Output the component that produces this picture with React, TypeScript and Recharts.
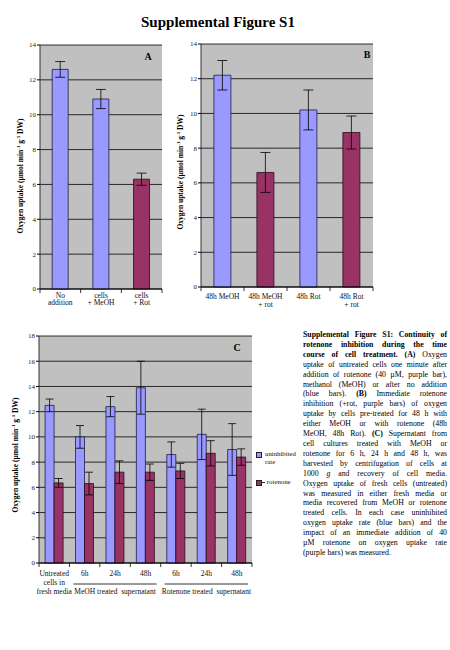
import React from "react";
import { BarChart, Bar, XAxis, YAxis, CartesianGrid, ErrorBar, Cell, Legend } from "recharts";

const BLUE = "#9999ff";
const PURPLE = "#993366";
const BLUE_EDGE = "#1c1c48";
const PURPLE_EDGE = "#2a0a18";
const PLOT_BG = "#c0c0c0";
const FONT = "'Liberation Serif', 'Times New Roman', serif";

// panel A
const catsA = ["No\naddition", "cells\n+ MeOH", "cells\n+ Rot"];
const rateA = [12.6, 10.9, 6.3];
const errA = [0.45, 0.55, 0.35];
const rotA = [false, false, true];

// panel B
const catsB = ["48h MeOH", "48h MeOH\n+ rot", "48h Rot", "48h Rot\n+ rot"];
const rateB = [12.2, 6.6, 10.2, 8.9];
const errB = [0.85, 1.15, 1.15, 0.95];
const rotB = [false, true, false, true];

// panel C
const catsC = ["Untreated\ncells in\nfresh media", "6h", "24h", "48h", "6h", "24h", "48h"];
const uninhibitedC = [12.5, 10.0, 12.4, 13.9, 8.6, 10.2, 9.0];
const uninhibitedErrC = [0.5, 0.9, 0.8, 2.1, 1.0, 2.0, 2.05];
const rotenoneC = [6.35, 6.3, 7.2, 7.2, 7.3, 8.7, 8.4];
const rotenoneErrC = [0.35, 0.9, 0.9, 0.65, 0.6, 1.0, 0.65];
const groupLabelsC = ["MeOH treated  supernatant", "Rotenone treated  supernatant"];
const groupMidC = [2, 5];
const legendOrderC = ["uninhibited", "rotenone"];

const ticks14 = [0, 2, 4, 6, 8, 10, 12, 14];
const ticks18 = [0, 2, 4, 6, 8, 10, 12, 14, 16, 18];

const captionLines = [
  "*Supplemental Figure S1: Continuity of*",
  "*rotenone inhibition during the time*",
  "*course of cell treatment. (A)* Oxygen",
  "uptake of untreated cells one minute after",
  "addition of rotenone (40 µM, purple bar),",
  "methanol (MeOH) or after no addition",
  "(blue bars). *(B)* Immediate rotenone",
  "inhibition (+rot, purple bars) of oxygen",
  "uptake by cells pre-treated for 48 h with",
  "either MeOH or with rotenone (48h",
  "MeOH, 48h Rot). *(C)* Supernatant from",
  "cell cultures treated with MeOH or",
  "rotenone for 6 h, 24 h and 48 h, was",
  "harvested by centrifugation of cells at",
  "1000 _g_ and recovery of cell media.",
  "Oxygen uptake of fresh cells (untreated)",
  "was measured in either fresh media or",
  "media recovered from MeOH or rotenone",
  "treated cells. In each case uninhibited",
  "oxygen uptake rate (blue bars) and the",
  "impact of an immediate addition of  40",
  "µM rotenone on oxygen uptake rate",
  "(purple bars) was measured.",
];

const dataA = catsA.map((name, i) => ({ name, rate: rateA[i], err: errA[i], rot: rotA[i] }));
const dataB = catsB.map((name, i) => ({ name, rate: rateB[i], err: errB[i], rot: rotB[i] }));
const dataC = catsC.map((name, i) => ({
  name,
  uninhibited: uninhibitedC[i],
  uninhibitedErr: uninhibitedErrC[i],
  rotenone: rotenoneC[i],
  rotenoneErr: rotenoneErrC[i],
}));

const yTick = { fontSize: 7, fill: "#222", fontFamily: FONT };

const yTitle = (x: number, cy: number) => () => (
  <text
    transform={`translate(${x},${cy}) rotate(-90)`}
    textAnchor="middle"
    fontFamily={FONT}
    fontSize={7.5}
    fontWeight="bold"
    fill="#000"
  >
    Oxygen uptake (µmol min
    <tspan dy={-3} fontSize={5}>-1</tspan>
    <tspan dy={3}> g</tspan>
    <tspan dy={-3} fontSize={5}>-1</tspan>
    <tspan dy={3}> DW)</tspan>
  </text>
);

const catTick = (cats: string[], band: number, first: number, lh: number) => (props: any) => {
  const { x, y, index } = props;
  const lines = cats[index].split("\n");
  return (
    <g>
      <line x1={x - band / 2} x2={x - band / 2} y1={y} y2={y + 4} stroke="#000" strokeWidth={0.8} />
      {index === cats.length - 1 && (
        <line x1={x + band / 2} x2={x + band / 2} y1={y} y2={y + 4} stroke="#000" strokeWidth={0.8} />
      )}
      <text x={x} y={y + first} textAnchor="middle" fontSize={7.5} fontFamily={FONT} fill="#111">
        {lines.map((l, i) => (
          <tspan key={i} x={x} dy={i === 0 ? 0 : lh}>
            {l}
          </tspan>
        ))}
      </text>
    </g>
  );
};

const tickC = (band: number) => (props: any) => {
  const { x, y, index } = props;
  const base = catTick(catsC, band, 12.5, 9)(props);
  const g = groupMidC.indexOf(index);
  return (
    <g>
      {base}
      {g >= 0 && (
        <g>
          <line x1={x - 1.5 * band + 4} x2={x + 1.5 * band - 4} y1={y + 21} y2={y + 21} stroke="#000" strokeWidth={0.8} />
          <text x={x} y={y + 30.5} textAnchor="middle" fontSize={7.5} fontFamily={FONT} fill="#111" style={{ whiteSpace: "pre" }}>
            {groupLabelsC[g]}
          </text>
        </g>
      )}
    </g>
  );
};

const legendC = (props: any) => {
  const items = [...(props.payload || [])].sort(
    (a: any, b: any) => legendOrderC.indexOf(a.dataKey) - legendOrderC.indexOf(b.dataKey)
  );
  return (
    <div style={{ fontFamily: FONT, fontSize: 6.8, lineHeight: "8px", color: "#111" }}>
      {items.map((p: any, i: number) => (
        <div key={i} style={{ display: "flex", alignItems: "flex-start", marginBottom: 12 }}>
          <span
            style={{
              display: "inline-block",
              width: 4,
              height: 4,
              marginTop: 2,
              background: p.color,
              border: "1px solid #222",
            }}
          />
          {i === 1 && <span style={{ display: "inline-block", width: 3, height: 1, marginTop: 4, background: "#222" }} />}
          <span style={{ marginLeft: i === 1 ? 2 : 3, width: 36 }}>{p.value}</span>
        </div>
      ))}
    </div>
  );
};

const panelLetter = (x: number, y: number, t: string) => (
  <text x={x} y={y} textAnchor="middle" fontFamily={FONT} fontSize={10} fontWeight="bold" fill="#000">
    {t}
  </text>
);

const Caption = () => (
  <div
    style={{
      position: "absolute",
      left: 303,
      top: 330,
      width: 144,
      fontFamily: FONT,
      fontSize: 7.8,
      lineHeight: "9.9px",
      color: "#000",
    }}
  >
    {captionLines.map((line, i) => {
      const parts = line.split(/(\*[^*]+\*|_[^_]+_)/).filter((s) => s.length);
      return (
        <div
          key={i}
          style={{
            textAlign: "justify",
            textAlignLast: i === captionLines.length - 1 ? "left" : "justify",
            whiteSpace: "nowrap",
          }}
        >
          {parts.map((s, j) =>
            s.startsWith("*") ? (
              <b key={j}>{s.slice(1, -1)}</b>
            ) : s.startsWith("_") ? (
              <i key={j}>{s.slice(1, -1)}</i>
            ) : (
              <span key={j}>{s}</span>
            )
          )}
        </div>
      );
    })}
  </div>
);

export default function App() {
  return (
    <div style={{ position: "absolute", left: 0, top: 0, width: 450, height: 650, background: "#fff" }}>
      <div
        style={{
          position: "absolute",
          left: 0,
          width: 436,
          top: 14,
          textAlign: "center",
          fontFamily: FONT,
          fontWeight: "bold",
          fontSize: 15,
          lineHeight: "16px",
        }}
      >
        Supplemental Figure S1
      </div>

      <div style={{ position: "absolute", left: 0, top: 30 }}>
        <BarChart width={175} height={320} data={dataA} margin={{ top: 15, right: 13, left: 0, bottom: 31 }} barCategoryGap="30%">
          <CartesianGrid vertical={false} stroke="#000" strokeWidth={0.8} fill={PLOT_BG} fillOpacity={1} />
          <XAxis
            dataKey="name"
            interval={0}
            height={30}
            tickLine={false}
            tickSize={0}
            tickMargin={0}
            axisLine={{ stroke: "#000" }}
            tick={catTick(catsA, 122 / 3, 8.5, 7.7)}
          />
          <YAxis
            width={40}
            domain={[0, 14]}
            ticks={ticks14}
            tick={yTick}
            tickSize={3}
            tickMargin={1}
            tickLine={{ stroke: "#000" }}
            axisLine={{ stroke: "#333" }}
            label={yTitle(23, 146)}
          />
          <Bar dataKey="rate" isAnimationActive={false} strokeWidth={0.8}>
            {dataA.map((d, i) => (
              <Cell key={i} fill={d.rot ? PURPLE : BLUE} stroke={d.rot ? PURPLE_EDGE : BLUE_EDGE} />
            ))}
            <ErrorBar dataKey="err" width={5} stroke="#000" strokeWidth={0.8} isAnimationActive={false} />
          </Bar>
          {panelLetter(148, 29.5, "A")}
        </BarChart>
      </div>

      <div style={{ position: "absolute", left: 170, top: 30 }}>
        <BarChart width={215} height={320} data={dataB} margin={{ top: 14, right: 12, left: 0, bottom: 33 }} barCategoryGap="30%">
          <CartesianGrid vertical={false} stroke="#000" strokeWidth={0.8} fill={PLOT_BG} fillOpacity={1} />
          <XAxis
            dataKey="name"
            interval={0}
            height={30}
            tickLine={false}
            tickSize={0}
            tickMargin={0}
            axisLine={{ stroke: "#000" }}
            tick={catTick(catsB, 43, 12, 7.7)}
          />
          <YAxis
            width={31}
            domain={[0, 14]}
            ticks={ticks14}
            tick={yTick}
            tickSize={3}
            tickMargin={1}
            tickLine={{ stroke: "#000" }}
            axisLine={{ stroke: "#333" }}
            label={yTitle(13, 142)}
          />
          <Bar dataKey="rate" isAnimationActive={false} strokeWidth={0.8}>
            {dataB.map((d, i) => (
              <Cell key={i} fill={d.rot ? PURPLE : BLUE} stroke={d.rot ? PURPLE_EDGE : BLUE_EDGE} />
            ))}
            <ErrorBar dataKey="err" width={5} stroke="#000" strokeWidth={0.8} isAnimationActive={false} />
          </Bar>
          {panelLetter(197, 27.5, "B")}
        </BarChart>
      </div>

      <div style={{ position: "absolute", left: 0, top: 320 }}>
        <BarChart
          width={310}
          height={290}
          data={dataC}
          margin={{ top: 16, right: 58, left: 0, bottom: 7 }}
          barCategoryGap="20%"
          barGap={0}
        >
          <CartesianGrid vertical={false} stroke="#000" strokeWidth={0.8} fill={PLOT_BG} fillOpacity={1} />
          <XAxis
            dataKey="name"
            interval={0}
            height={40}
            tickLine={false}
            tickSize={0}
            tickMargin={0}
            axisLine={{ stroke: "#000" }}
            tick={tickC(213 / 7)}
          />
          <YAxis
            width={39}
            domain={[0, 18]}
            ticks={ticks18}
            tick={yTick}
            tickSize={3}
            tickMargin={1}
            tickLine={{ stroke: "#000" }}
            axisLine={{ stroke: "#333" }}
            label={yTitle(18, 135)}
          />
          <Legend
            layout="horizontal"
            verticalAlign="middle"
            align="center"
            content={legendC}
            wrapperStyle={{ position: "absolute", left: 256, top: 130, width: 46 }}
          />
          <Bar dataKey="uninhibited" name="uninhibited rate" fill={BLUE} stroke={BLUE_EDGE} strokeWidth={0.8} isAnimationActive={false}>
            <ErrorBar dataKey="uninhibitedErr" width={4} stroke="#000" strokeWidth={0.8} isAnimationActive={false} />
          </Bar>
          <Bar dataKey="rotenone" name="rotenone" fill={PURPLE} stroke={PURPLE_EDGE} strokeWidth={0.8} isAnimationActive={false}>
            <ErrorBar dataKey="rotenoneErr" width={4} stroke="#000" strokeWidth={0.8} isAnimationActive={false} />
          </Bar>
          {panelLetter(237, 30.5, "C")}
        </BarChart>
      </div>

      <Caption />
    </div>
  );
}
